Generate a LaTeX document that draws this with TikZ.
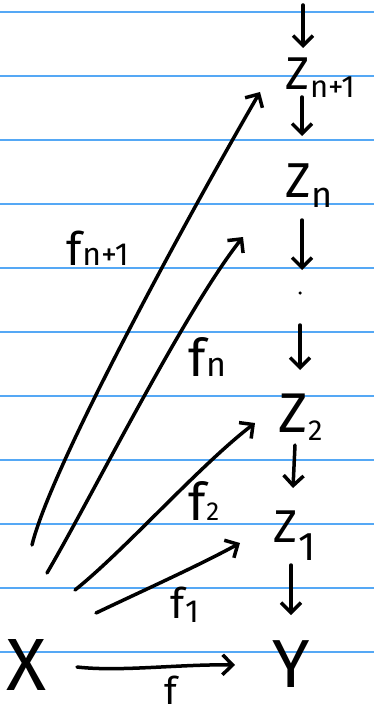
\documentclass[tikz,border=0pt]{standalone}
\usepackage{fontspec}
\setmainfont{Fira Sans}
\usetikzlibrary{arrows.meta}
\definecolor{ruled}{RGB}{85,168,245}
\newcommand\mylab[5]{{\fontsize{#1pt}{#1pt}\selectfont #2}\kern1pt{\fontsize{#3pt}{#3pt}\selectfont\raisebox{-#5pt}{#4}}}
\newcommand\mytxt[2]{{\fontsize{#1pt}{#1pt}\selectfont #2}}
\tikzset{
  obj/.style={anchor=base west,inner sep=0pt,outer sep=0pt},
  arr/.style={line width=3.5pt,line cap=round,line join=round,-{Straight Barb[length=10pt,width=20pt]}},
  rule/.style={ruled,line width=1.4pt}
}
\begin{document}
\begin{tikzpicture}[x=1pt,y=-1pt]
\useasboundingbox (0,0) rectangle (374,714);
\fill[white] (0,0) rectangle (374,714);
\foreach \yy in {12,76,...,652} \draw[rule] (0,\yy) -- (374,\yy);
% objects
\node[obj] (Znp1) at (285,90) {\mylab{46}{Z}{31}{n+1}{8}};
\node[obj] (Zn) at (285,197) {\mylab{49}{Z}{36}{n}{10}};
\node[circle,fill,inner sep=0pt,minimum size=3.5pt] (dots) at (300,293) {};
\node[obj] (Z2) at (278,432) {\mylab{56}{Z}{29}{2}{8}};
\node[obj] (Z1) at (273,542) {\mylab{46}{Z}{40}{1}{18}};
\node[obj] (Y) at (272,687) {\mytxt{68}{Y}};
\node[obj] (X) at (6,690) {\mytxt{74}{X}};
\coordinate (topc) at (303,5);
% vertical chain
\draw[arr] (topc) -- ([shift={(18,-42)}]Znp1.base west);
\draw[arr] ([shift={(17,7)}]Znp1.base west) -- ([shift={(17,-61)}]Zn.base west);
\draw[arr] ([shift={(17,23)}]Zn.base west) -- ([shift={(2,-23)}]dots.center);
\draw[arr] ([shift={(0,32)}]dots.center) -- ([shift={(22,-62)}]Z2.base west);
\draw[arr] ([shift={(17,13)}]Z2.base west) -- ([shift={(20,-54)}]Z1.base west);
\draw[arr] ([shift={(18,23)}]Z1.base west) -- ([shift={(19,-72)}]Y.base west);
% maps from X
\draw[arr] ([shift={(71,-23)}]X.base west) .. controls (120,672) and (180,664) .. ([shift={(-37,-22)}]Y.base west);
\draw[arr] ([shift={(90,-77)}]X.base west) .. controls (140,592) and (200,565) .. ([shift={(-33,1)}]Z1.base west);
\draw[arr] ([shift={(69,-100)}]X.base west) .. controls (125,550) and (200,465) .. ([shift={(-23,-9)}]Z2.base west);
\draw[arr] ([shift={(41,-117)}]X.base west) .. controls (90,500) and (185,310) .. ([shift={(-42,40)}]Zn.base west);
\draw[arr] ([shift={(26,-145)}]X.base west) .. controls (50,470) and (180,230) .. ([shift={(-25,2)}]Znp1.base west);
% labels
\node[obj] (lfnp1) at (66,265) {\mylab{46}{f}{32}{n+1}{0}};
\node[obj] (lfn) at (188,376) {\mylab{52}{f}{34}{n}{0}};
\node[obj] (lf2) at (188,520) {\mylab{52}{f}{26}{2}{0}};
\node[obj] (lf1) at (170,618) {\mylab{42}{f}{32}{1}{4}};
\node[obj] (lf) at (164,704) {\mytxt{38}{f}};
\end{tikzpicture}
\end{document}
